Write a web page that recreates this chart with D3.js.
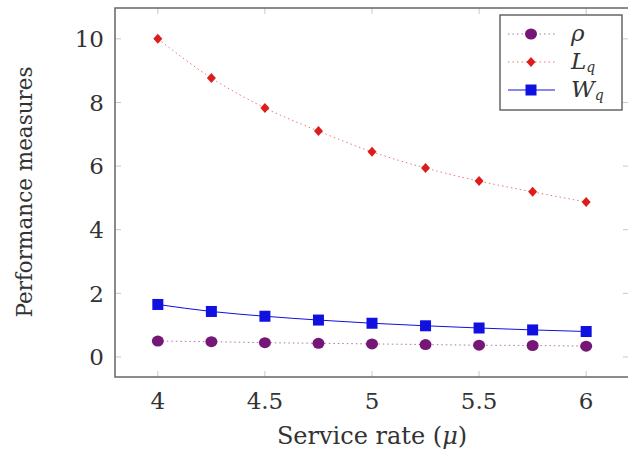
<!DOCTYPE html>
<html>
<head>
<meta charset="utf-8">
<script src="https://cdn.jsdelivr.net/npm/d3@7"></script>
<style>
  body { margin: 0; background: #fff; }
  text { font-family: "DejaVu Serif", serif; fill: #333; }
</style>
</head>
<body>
<div id="chart"></div>
<script>
// service rate values (x) and the three measures
var mu = [4, 4.25, 4.5, 4.75, 5, 5.25, 5.5, 5.75, 6];
var rho = [0.5, 0.48, 0.45, 0.43, 0.41, 0.39, 0.37, 0.36, 0.34];
var Lq = [10, 8.77, 7.83, 7.1, 6.45, 5.94, 5.53, 5.19, 4.87];
var Wq = [1.65, 1.43, 1.28, 1.16, 1.06, 0.98, 0.91, 0.85, 0.8];
var xTicks = [4, 4.5, 5, 5.5, 6];
var xTickLabels = ['4', '4.5', '5', '5.5', '6'];
var yTicks = [0, 2, 4, 6, 8, 10];

var width = 628, height = 451;

var x = d3.scaleLinear().domain([3.8, 6.2]).range([115, 629]);
var y = d3.scaleLinear().domain([-0.63, 10.97]).range([377, 8]);

var svg = d3.select('#chart')
  .append('svg')
  .attr('width', width)
  .attr('height', height);

// inner tick marks on all four sides
var ticks = svg.append('g').attr('stroke', '#c8c8c8').attr('stroke-width', 1);
yTicks.forEach(function(t){
  ticks.append('line').attr('x1', x(3.8)).attr('x2', x(3.8) + 6).attr('y1', y(t)).attr('y2', y(t));
  ticks.append('line').attr('x1', x(6.2)).attr('x2', x(6.2) - 6).attr('y1', y(t)).attr('y2', y(t));
});
xTicks.forEach(function(t){
  ticks.append('line').attr('x1', x(t)).attr('x2', x(t)).attr('y1', y(-0.63)).attr('y2', y(-0.63) - 6);
  ticks.append('line').attr('x1', x(t)).attr('x2', x(t)).attr('y1', y(10.97)).attr('y2', y(10.97) + 6);
});

// frame
svg.append('rect')
  .attr('x', x(3.8)).attr('y', y(10.97))
  .attr('width', x(6.2) - x(3.8)).attr('height', y(-0.63) - y(10.97))
  .attr('fill', 'none').attr('stroke', '#666').attr('stroke-width', 1.5);

// tick labels
svg.selectAll('text.ylab')
  .data(yTicks)
  .enter()
  .append('text')
  .attr('x', 104)
  .attr('y', function(d){ return y(d); })
  .attr('dy', '0.36em')
  .attr('text-anchor', 'end')
  .attr('font-size', 23)
  .text(function(d){ return d; });

svg.selectAll('text.xlab')
  .data(xTicks)
  .enter()
  .append('text')
  .attr('x', function(d){ return x(d); })
  .attr('y', 409)
  .attr('text-anchor', 'middle')
  .attr('font-size', 23)
  .text(function(d, i){ return xTickLabels[i]; });

// axis titles
var xt = svg.append('text')
  .attr('x', 372).attr('y', 444)
  .attr('text-anchor', 'middle')
  .attr('font-size', 24);
xt.append('tspan').text('Service rate (');
xt.append('tspan').attr('font-style', 'italic').text('μ');
xt.append('tspan').text(')');

svg.append('text')
  .attr('transform', 'translate(32,192) rotate(-90)')
  .attr('text-anchor', 'middle')
  .attr('font-size', 21.5)
  .text('Performance measures');

var line = d3.line()
  .x(function(d, i){ return x(mu[i]); })
  .y(function(d){ return y(d); })
  .curve(d3.curveMonotoneX);

var series = [
  {values: rho, color: '#761676', dash: '1.5,3', marker: 'circle'},
  {values: Lq, color: '#dd1c1c', dash: '1.5,3', marker: 'diamond'},
  {values: Wq, color: '#1010e0', dash: null, marker: 'square'}
];

function drawMarker(g, type, color, cx, cy){
  if (type === 'circle') {
    g.append('ellipse').attr('cx', cx).attr('cy', cy).attr('rx', 6).attr('ry', 5.5).attr('fill', color);
  } else if (type === 'diamond') {
    g.append('path').attr('d', 'M' + cx + ',' + (cy - 5) + 'L' + (cx + 4.5) + ',' + cy +
      'L' + cx + ',' + (cy + 5) + 'L' + (cx - 4.5) + ',' + cy + 'Z').attr('fill', color);
  } else {
    g.append('rect').attr('x', cx - 5.5).attr('y', cy - 5.5).attr('width', 11).attr('height', 11).attr('fill', color);
  }
}

series.forEach(function(s){
  var path = svg.append('path')
    .datum(s.values)
    .attr('d', line)
    .attr('fill', 'none')
    .attr('stroke', s.color)
    .attr('stroke-width', 1);
  if (s.dash) path.attr('stroke-dasharray', s.dash).attr('stroke-opacity', 0.6);
  var g = svg.append('g');
  s.values.forEach(function(v, i){ drawMarker(g, s.marker, s.color, x(mu[i]), y(v)); });
});

// legend
var legend = svg.append('g');
legend.append('rect')
  .attr('x', 500).attr('y', 15).attr('width', 122).attr('height', 95)
  .attr('fill', '#fff').attr('stroke', '#666').attr('stroke-width', 1.5);

var legendNames = [['ρ', ''], ['L', 'q'], ['W', 'q']];
var legendY = [34, 62, 90];
series.forEach(function(s, i){
  var ly = legendY[i];
  var l = legend.append('line')
    .attr('x1', 508).attr('x2', 555).attr('y1', ly).attr('y2', ly)
    .attr('stroke', s.color).attr('stroke-width', 1);
  if (s.dash) l.attr('stroke-dasharray', s.dash).attr('stroke-opacity', 0.6);
  drawMarker(legend, s.marker, s.color, 531, ly);
  var t = legend.append('text')
    .attr('x', 571).attr('y', ly + 7)
    .attr('font-size', 23).attr('font-style', 'italic');
  t.append('tspan').text(legendNames[i][0]);
  if (legendNames[i][1]) t.append('tspan').attr('font-size', 14).attr('dy', 3).text(legendNames[i][1]);
});
</script>
</body>
</html>
